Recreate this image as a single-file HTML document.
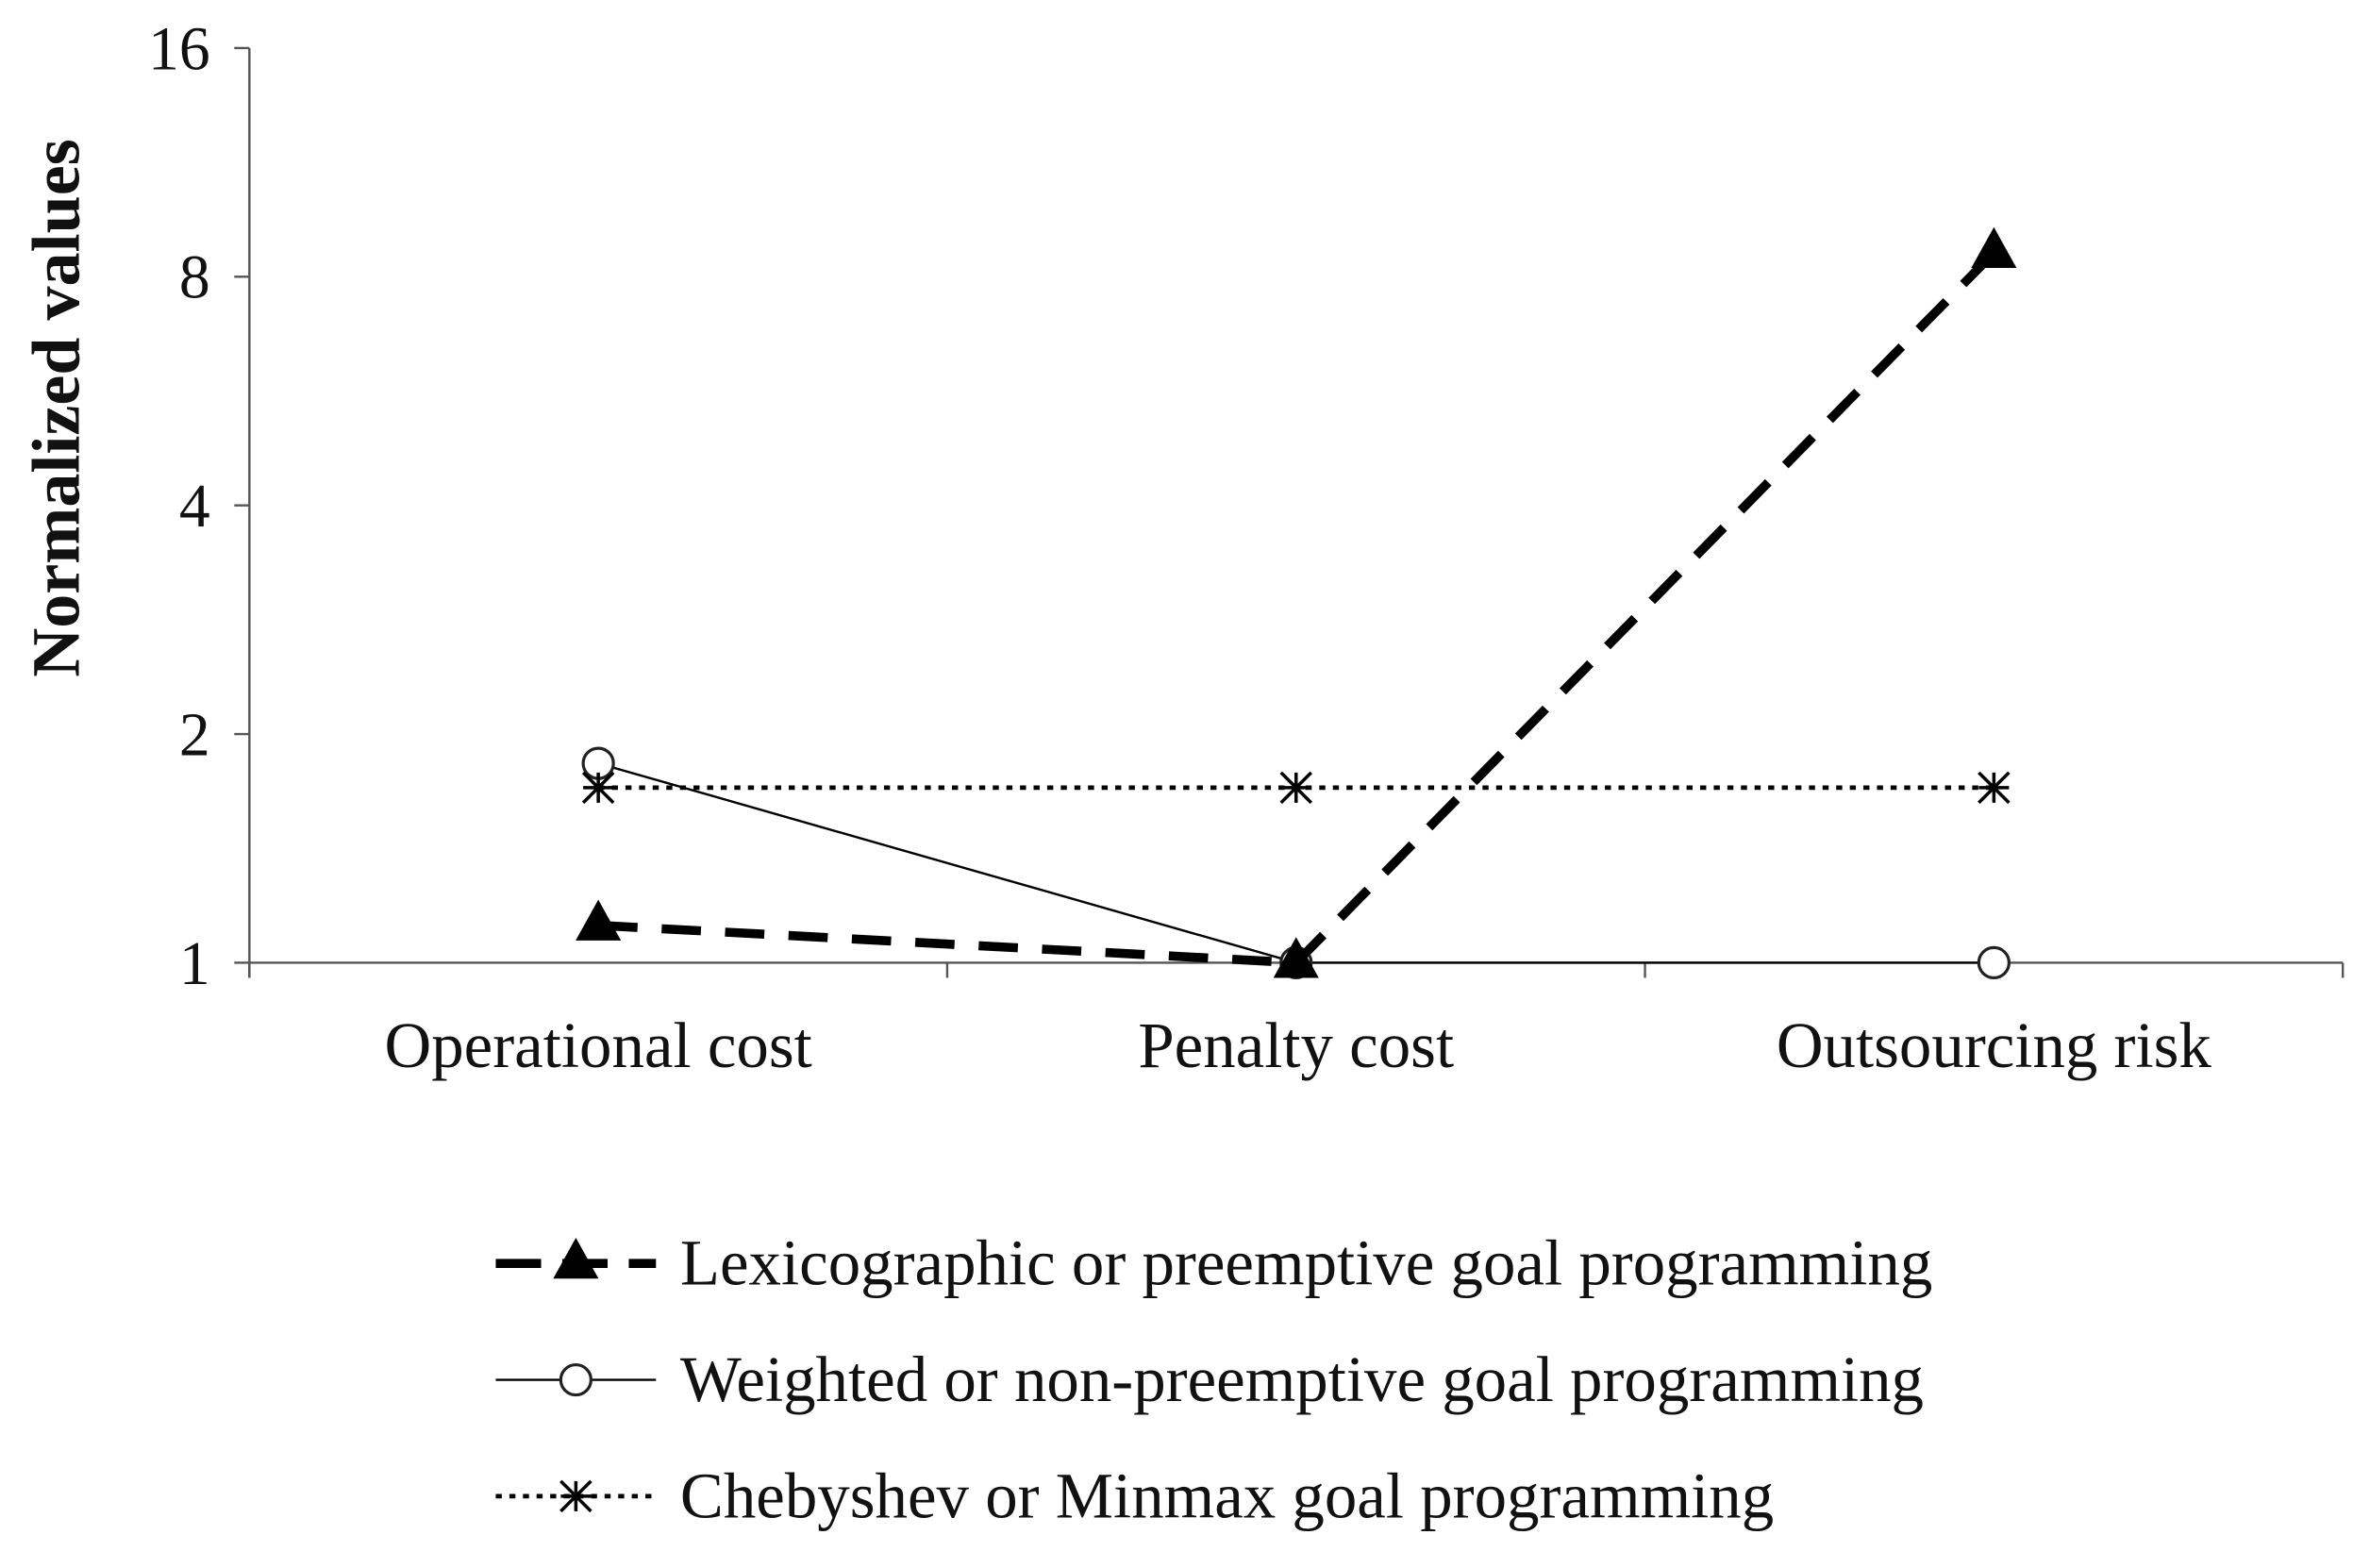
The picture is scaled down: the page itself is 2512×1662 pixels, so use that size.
<!DOCTYPE html>
<html><head><meta charset="utf-8"><style>
html,body{margin:0;padding:0;background:#fff;}
svg{display:block;}
text{font-family:"Liberation Serif",serif;fill:#111;}
</style></head><body>
<svg id="chart" width="2512" height="1662" viewBox="0 0 1568 1037.5" preserveAspectRatio="none" xmlns="http://www.w3.org/2000/svg">
<g id="axes"></g>
<g id="series"></g>
<g id="legend"></g>
</svg>
<script>
const categories = ["Operational cost", "Penalty cost", "Outsourcing risk"];
const yTicks = [1, 2, 4, 8, 16];
const lexicographic = [1.12, 1, 8.6];
const weighted = [1.83, 1, 1];
const chebyshev = [1.70, 1.70, 1.70];
const legendLabels = ["Lexicographic or preemptive goal programming", "Weighted or non-preemptive goal programming", "Chebyshev or Minmax goal programming"];

const NS = "http://www.w3.org/2000/svg";
const X0 = 165, X1 = 1550, Y1 = 637, PER = 151.3;
const catW = (X1 - X0) / categories.length;
const xs = i => X0 + catW * (i + 0.5);
const ys = v => Y1 - Math.log2(v) * PER;
function mk(tag, attrs, parent) {
  const e = document.createElementNS(NS, tag);
  for (const k in attrs) e.setAttribute(k, attrs[k]);
  parent.appendChild(e);
  return e;
}
const axes = document.getElementById('axes');
const series = document.getElementById('series');
const legend = document.getElementById('legend');

let yAxis = mk('line', {x1: X0, y1: ys(16), x2: X0, y2: Y1 + 10, stroke: '#555', 'stroke-width': 1.5}, axes);


let xAxis = mk('line', {x1: X0, y1: Y1, x2: X1, y2: Y1, stroke: '#555', 'stroke-width': 1.5}, axes);



yTicks.forEach(v => {
  const t = mk('line', {x1: X0 - 10, y1: ys(v), x2: X0, y2: ys(v), stroke: '#555', 'stroke-width': 1.5}, axes);
  
  
  const l = mk('text', {x: X0 - 26, y: ys(v) + 14, 'text-anchor': 'end', 'font-size': 41}, axes);
  l.textContent = v;
  
  
});
for (let i = 0; i <= categories.length; i++) {
  const t = mk('line', {x1: X0 + catW * i, y1: Y1, x2: X0 + catW * i, y2: Y1 + 10, stroke: '#555', 'stroke-width': 1.5}, axes);
  
  
}
categories.forEach((c, i) => {
  const l = mk('text', {x: xs(i), y: 706, 'text-anchor': 'middle', 'font-size': 43}, axes);
  l.textContent = c;
  
  
});
const yt = mk('text', {x: 0, y: 0, transform: 'translate(52,270) rotate(-90)', 'text-anchor': 'middle', 'font-size': 45, 'font-weight': 'bold'}, axes);
yt.textContent = "Normalized values";



const styles = [
  {data: lexicographic, w: 6, dash: '26,16', marker: 'tri'},
  {data: weighted, w: 1.5, dash: '', marker: 'circle'},
  {data: chebyshev, w: 3, dash: '4,5', marker: 'star'}
];
function marker(type, x, y, g) {
  if (type === 'tri') {
    mk('polygon', {points: `${x},${y-17} ${x-15},${y+10} ${x+15},${y+10}`, fill: '#000'}, g);
  } else if (type === 'circle') {
    mk('circle', {cx: x, cy: y, r: 10, fill: '#fff', stroke: '#222', 'stroke-width': 2}, g);
  } else {
    const r = 10;
    mk('path', {d: `M${x-r},${y-r}L${x+r},${y+r}M${x-r},${y+r}L${x+r},${y-r}M${x},${y-r}L${x},${y+r}M${x-r},${y}L${x+r},${y}`, stroke: '#000', 'stroke-width': 2.2}, g);
  }
}
const seriesNames = ['lexicographic-series', 'weighted-series', 'chebyshev-series'];
[1, 0, 2].forEach(k => {
  const s = styles[k];
  const g = mk('g', {}, series);
  
  
  const pts = s.data.map((v, i) => `${xs(i)},${ys(v)}`).join(' ');
  const pl = mk('polyline', {points: pts, fill: 'none', stroke: '#000', 'stroke-width': s.w, 'stroke-dasharray': s.dash}, g);
  
  
  s.data.forEach((v, i) => marker(s.marker, xs(i), ys(v), g));
});

const legendY = [836, 913, 990];
legendLabels.forEach((lab, k) => {
  const s = styles[k];
  const g = mk('g', {}, legend);
  
  
  mk('line', {x1: 328, y1: legendY[k], x2: 434, y2: legendY[k], stroke: '#000', 'stroke-width': s.w, 'stroke-dasharray': s.marker === 'tri' ? '30,14' : s.dash}, g);
  marker(s.marker, 381, legendY[k], g);
  const t = mk('text', {x: 450, y: legendY[k] + 14, 'font-size': 43}, g);
  t.textContent = lab;
  
  
});
</script>
</body></html>
